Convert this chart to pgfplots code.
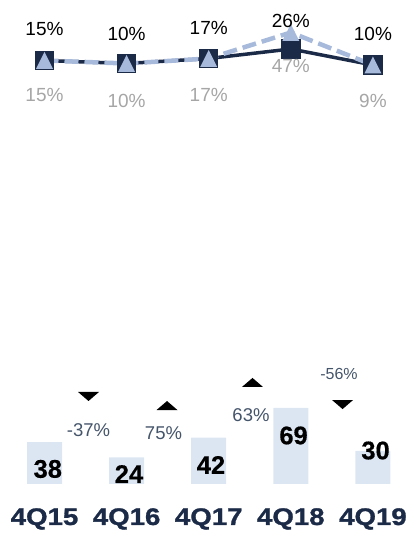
\documentclass[border=0pt]{standalone}
\usepackage{fontspec}
\setmainfont{Liberation Sans}
\newfontfamily\catfont{Liberation Sans Bold}[FakeStretch=1.15,FakeBold=1.2]
\newfontfamily\valfont{Liberation Sans Bold}[FakeBold=0.5]
\usepackage{pgfplots}
\pgfplotsset{compat=1.18}
\definecolor{navy}{HTML}{1B2A47}
\definecolor{lightblue}{HTML}{A7BADB}
\definecolor{barfill}{HTML}{DCE6F2}
\definecolor{chg}{HTML}{44546A}
\definecolor{greylab}{HTML}{A6A6A6}
\pgfdeclareplotmark{etri}{%
  \pgfpathmoveto{\pgfqpoint{-\pgfplotmarksize}{-\pgfplotmarksize}}%
  \pgfpathlineto{\pgfqpoint{\pgfplotmarksize}{-\pgfplotmarksize}}%
  \pgfpathlineto{\pgfqpoint{0pt}{\pgfplotmarksize}}%
  \pgfpathclose\pgfusepathqfill}
\pgfdeclareplotmark{flatup}{%
  \pgfpathmoveto{\pgfqpoint{-\pgfplotmarksize}{-0.43\pgfplotmarksize}}%
  \pgfpathlineto{\pgfqpoint{\pgfplotmarksize}{-0.43\pgfplotmarksize}}%
  \pgfpathlineto{\pgfqpoint{0pt}{0.43\pgfplotmarksize}}%
  \pgfpathclose\pgfusepathqfill}
\pgfdeclareplotmark{flatdown}{%
  \pgfpathmoveto{\pgfqpoint{-\pgfplotmarksize}{0.43\pgfplotmarksize}}%
  \pgfpathlineto{\pgfqpoint{\pgfplotmarksize}{0.43\pgfplotmarksize}}%
  \pgfpathlineto{\pgfqpoint{0pt}{-0.43\pgfplotmarksize}}%
  \pgfpathclose\pgfusepathqfill}
\pgfplotsset{
  lab/.style={draw=none, mark=none, nodes near coords, point meta=explicit symbolic,
    every node near coord/.append style={anchor=center, inner sep=0pt}},
}
\begin{document}
\begin{tikzpicture}
\path[use as bounding box] (0,0) rectangle (408pt,534pt);
% ---------- top: line chart ----------
\begin{axis}[at={(0pt,414pt)}, anchor=south west, scale only axis,
  width=408pt, height=120pt, xmin=-0.542, xmax=4.427, ymin=0, ymax=120,
  hide axis, clip=false]
\addplot[navy, line width=3.5pt, mark=square*, mark size=8pt,
  mark options={fill=navy, draw=none}]
  coordinates {(0,59.5)(1,56.5)(2,61.5)(3,71)(4,55)};
\addplot[lightblue, line width=4.5pt, dash pattern=on 14pt off 6pt, mark=etri, mark size=8.5pt,
  mark options={solid, fill=lightblue, draw=none}]
  coordinates {(0,59.5)(1,56.5)(2,61.5)(3,87.5)(4,55)};
\addplot[lab, every node near coord/.append style={font=\fontsize{19}{19}\selectfont, text=black}]
  table[meta=l] {
x y l
0 90.5 15\%
1 86 10\%
2 92.5 17\%
3 99.5 26\%
4 86 10\%
};
\addplot[lab, every node near coord/.append style={font=\fontsize{19}{19}\selectfont, text=greylab}]
  table[meta=l] {
x y l
0 24.5 15\%
1 19.5 10\%
2 25.5 17\%
3 54 47\%
4 19.5 9\%
};
\end{axis}
% ---------- bottom: bar chart ----------
\begin{axis}[at={(0pt,50pt)}, anchor=south west, scale only axis,
  width=408pt, height=140pt, xmin=-0.542, xmax=4.427, ymin=0, ymax=126.7,
  hide axis, clip=false]
\addplot[ybar, bar width=35pt, fill=barfill, draw=none]
  coordinates {(0,38)(1,24)(2,42)(3,69)(4,30)};
\addplot[lab, every node near coord/.append style={font=\valfont\fontsize{25.5}{25.5}\selectfont, text=black}]
  table[meta=l] {
x y l
0.040 13.6 38
1.029 9 24
2.028 17.2 42
3.033 43.9 69
4.032 30.3 30
};
\addplot[only marks, mark=flatup, mark size=10.5pt, mark options={fill=black, draw=none}]
  coordinates {(1.492,71.0)(2.533,91.9)};
\addplot[only marks, mark=flatdown, mark size=10.5pt, mark options={fill=black, draw=none}]
  coordinates {(0.536,79.2)(3.630,71.9)};
\addplot[lab, every node near coord/.append style={font=\fontsize{18.5}{18.5}\selectfont, text=chg}]
  table[meta=l] {
x y l
0.536 48.4 -37\%
1.449 45.7 75\%
2.515 62.4 63\%
};
\addplot[lab, every node near coord/.append style={font=\fontsize{16}{16}\selectfont, text=chg}]
  table[meta=l] {
x y l
3.587 100 -56\%
};
\addplot[lab, every node near coord/.append style={font=\catfont\fontsize{24}{24}\selectfont, text=navy, anchor=base}]
  table[meta=l] {
x y l
0 -37.1 4Q15
1 -37.1 4Q16
2 -37.1 4Q17
3 -37.1 4Q18
4 -37.1 4Q19
};
\end{axis}
\end{tikzpicture}
\end{document}
